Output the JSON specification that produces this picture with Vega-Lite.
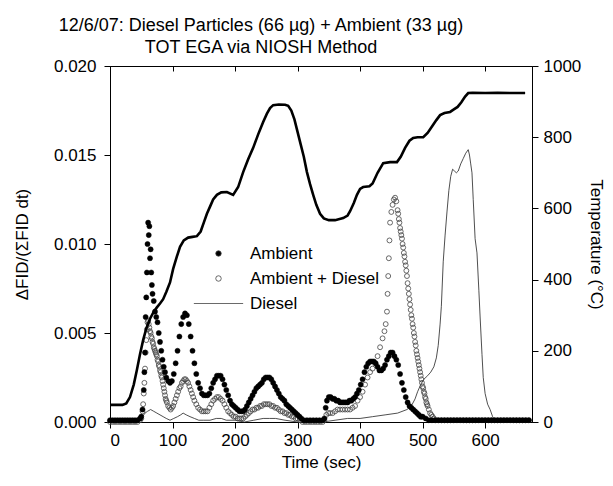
{
  "$schema": "https://vega.github.io/schema/vega-lite/v6.json",
  "autosize": {"type": "none"},
  "padding": {"left": 110, "top": 66, "right": 81, "bottom": 64},
  "width": 422,
  "height": 356,
  "background": "white",
  "title": {
    "text": ["12/6/07:  Diesel Particles (66 µg) + Ambient (33 µg)", "TOT EGA via NIOSH Method"],
    "font": "Liberation Sans", "fontSize": 18, "fontWeight": "normal", "color": "black",
    "anchor": "middle", "dx": -60, "dy": 3, "offset": 3, "lineHeight": 22
  },
  "config": {
    "view": {"stroke": "black", "strokeWidth": 1},
    "axis": {
      "grid": false, "domainColor": "black", "tickColor": "black", "labelColor": "black", "titleColor": "black",
      "labelFont": "Liberation Sans", "titleFont": "Liberation Sans", "labelFontSize": 17, "titleFontSize": 17,
      "titleFontWeight": "normal", "tickSize": 6
    },
    "legend": {"labelFont": "Liberation Sans", "labelFontSize": 17, "labelColor": "black"}
  },
  "datasets": {
    "amb": [
      {"t":0,"v":0.0001},{"t":4,"v":0.0001},{"t":8,"v":0.0001},{"t":12,"v":0.0001},{"t":16,"v":0.0001},{"t":20,"v":0.0001},{"t":24,"v":0.0001},{"t":28,"v":0.0001},{"t":32,"v":0.0001},{"t":36,"v":0.0001},{"t":40,"v":0.0001},{"t":44,"v":0.0001},{"t":48,"v":0.0002},
      {"t":50,"v":0.0003},{"t":52,"v":0.0007},{"t":54,"v":0.0018},{"t":55,"v":0.0028},{"t":56,"v":0.0039},{"t":57,"v":0.0059},{"t":58,"v":0.0070},{"t":59,"v":0.0084},{"t":60,"v":0.0100},{"t":61,"v":0.0112},{"t":62,"v":0.0105},{"t":63,"v":0.0110},{"t":64,"v":0.0092},{"t":65,"v":0.0097},{"t":66,"v":0.0084},{"t":67,"v":0.0077},{"t":68,"v":0.0072},{"t":70,"v":0.0068},{"t":72,"v":0.0062},{"t":74,"v":0.0059},{"t":76,"v":0.0056},{"t":78,"v":0.0050},{"t":80,"v":0.0045},{"t":82,"v":0.0040},{"t":84,"v":0.0035},{"t":86,"v":0.0031},{"t":88,"v":0.0028},{"t":90,"v":0.0025},{"t":93,"v":0.0023},{"t":96,"v":0.0022},{"t":99,"v":0.0023},
      {"t":102,"v":0.0027},{"t":105,"v":0.0033},{"t":108,"v":0.0040},{"t":111,"v":0.0048},{"t":114,"v":0.0055},{"t":117,"v":0.0059},{"t":120,"v":0.0061},{"t":123,"v":0.0060},{"t":126,"v":0.0055},{"t":129,"v":0.0048},{"t":132,"v":0.0040},{"t":135,"v":0.0033},{"t":138,"v":0.0027},{"t":141,"v":0.0022},{"t":144,"v":0.0019},{"t":147,"v":0.0016},{"t":150,"v":0.0015},{"t":153,"v":0.0015},{"t":156,"v":0.0015},{"t":159,"v":0.0016},{"t":162,"v":0.0019},{"t":165,"v":0.0022},{"t":168,"v":0.0024},{"t":171,"v":0.0026},{"t":174,"v":0.0026},{"t":177,"v":0.0026},{"t":180,"v":0.0024},{"t":183,"v":0.0021},{"t":186,"v":0.0018},{"t":189,"v":0.0015},{"t":192,"v":0.0012},{"t":195,"v":0.0010},{"t":198,"v":0.0009},
      {"t":201,"v":0.0008},{"t":204,"v":0.0007},{"t":207,"v":0.0006},{"t":210,"v":0.0006},{"t":213,"v":0.0006},{"t":216,"v":0.0007},{"t":219,"v":0.0009},{"t":222,"v":0.0011},{"t":225,"v":0.0013},{"t":228,"v":0.0015},{"t":231,"v":0.0017},{"t":234,"v":0.0019},{"t":237,"v":0.0020},{"t":240,"v":0.0021},{"t":243,"v":0.0022},{"t":246,"v":0.0024},{"t":249,"v":0.0025},{"t":252,"v":0.0025},{"t":255,"v":0.0025},{"t":258,"v":0.0024},{"t":261,"v":0.0022},{"t":264,"v":0.0020},{"t":267,"v":0.0018},{"t":270,"v":0.0016},{"t":273,"v":0.0014},{"t":276,"v":0.0013},{"t":279,"v":0.0012},{"t":282,"v":0.0010},{"t":285,"v":0.0009},{"t":288,"v":0.0008},{"t":291,"v":0.0007},{"t":294,"v":0.0006},{"t":297,"v":0.0005},
      {"t":300,"v":0.0004},{"t":303,"v":0.0003},{"t":306,"v":0.0002},{"t":310,"v":0.0001},{"t":315,"v":0.0001},{"t":320,"v":0.0001},{"t":325,"v":0.0001},{"t":330,"v":0.0001},{"t":335,"v":0.0001},{"t":340,"v":0.0001},{"t":343,"v":0.0002},{"t":345,"v":0.0008},{"t":347,"v":0.0012},{"t":350,"v":0.0014},{"t":353,"v":0.0014},{"t":356,"v":0.0013},{"t":359,"v":0.0013},{"t":362,"v":0.0012},{"t":365,"v":0.0012},{"t":368,"v":0.0011},{"t":371,"v":0.0011},{"t":374,"v":0.0011},{"t":377,"v":0.0011},{"t":380,"v":0.0011},{"t":383,"v":0.0012},{"t":386,"v":0.0012},{"t":389,"v":0.0013},{"t":392,"v":0.0014},{"t":395,"v":0.0016},{"t":398,"v":0.0018},
      {"t":401,"v":0.0021},{"t":404,"v":0.0024},{"t":407,"v":0.0028},{"t":410,"v":0.0031},{"t":413,"v":0.0033},{"t":416,"v":0.0034},{"t":419,"v":0.0034},{"t":422,"v":0.0034},{"t":425,"v":0.0033},{"t":428,"v":0.0031},{"t":431,"v":0.0029},{"t":434,"v":0.0029},{"t":437,"v":0.0030},{"t":440,"v":0.0032},{"t":443,"v":0.0035},{"t":446,"v":0.0037},{"t":449,"v":0.0039},{"t":452,"v":0.0039},{"t":455,"v":0.0037},{"t":458,"v":0.0035},{"t":461,"v":0.0032},{"t":464,"v":0.0027},{"t":467,"v":0.0022},{"t":470,"v":0.0018},{"t":473,"v":0.0014},{"t":476,"v":0.0011},{"t":479,"v":0.0009},{"t":482,"v":0.0008},{"t":485,"v":0.0007},{"t":488,"v":0.0006},{"t":491,"v":0.0005},{"t":494,"v":0.0004},{"t":497,"v":0.0003},
      {"t":500,"v":0.0003},{"t":505,"v":0.0002},{"t":510,"v":0.0001},{"t":515,"v":0.0001},{"t":520,"v":0.0001},{"t":525,"v":0.0001},{"t":530,"v":0.0001},{"t":535,"v":0.0001},{"t":540,"v":0.0001},{"t":545,"v":0.0001},{"t":550,"v":0.0001},{"t":555,"v":0.0001},{"t":560,"v":0.0001},{"t":565,"v":0.0001},{"t":570,"v":0.0001},{"t":575,"v":0.0001},{"t":580,"v":0.0001},{"t":585,"v":0.0001},{"t":590,"v":0.0001},{"t":595,"v":0.0001},{"t":600,"v":0.0001},{"t":605,"v":0.0001},{"t":610,"v":0.0001},{"t":615,"v":0.0001},{"t":620,"v":0.0001},{"t":625,"v":0.0001},{"t":630,"v":0.0001},{"t":635,"v":0.0001},{"t":640,"v":0.0001},{"t":645,"v":0.0001},{"t":650,"v":0.0001},{"t":655,"v":0.0001},{"t":660,"v":0.0001},{"t":665,"v":0.0001},{"t":670,"v":0.0001}
    ],
    "mix": [
      {"t":0,"v":0.0},{"t":4,"v":0.0},{"t":8,"v":0.0},{"t":12,"v":0.0},{"t":16,"v":0.0},{"t":20,"v":0.0},{"t":24,"v":0.0},{"t":28,"v":0.0},{"t":32,"v":0.0},{"t":36,"v":0.0},{"t":40,"v":0.0},{"t":44,"v":0.0},{"t":48,"v":0.0001},
      {"t":50,"v":0.0002},{"t":52,"v":0.0006},{"t":53,"v":0.0010},{"t":54,"v":0.0016},{"t":55,"v":0.0022},{"t":56,"v":0.0030},{"t":57,"v":0.0039},{"t":58,"v":0.0046},{"t":59,"v":0.0052},{"t":60,"v":0.0056},{"t":61,"v":0.0057},{"t":62,"v":0.0055},{"t":63,"v":0.0053},{"t":64,"v":0.0051},{"t":65,"v":0.0050},{"t":66,"v":0.0048},{"t":67,"v":0.0047},{"t":68,"v":0.0045},{"t":69,"v":0.0044},{"t":70,"v":0.0042},{"t":71,"v":0.0041},{"t":72,"v":0.0040},{"t":73,"v":0.0039},{"t":74,"v":0.0038},{"t":75,"v":0.0037},{"t":76,"v":0.0035},{"t":77,"v":0.0034},{"t":78,"v":0.0032},{"t":79,"v":0.0031},{"t":80,"v":0.0029},{"t":81,"v":0.0028},{"t":82,"v":0.0026},{"t":83,"v":0.0025},{"t":84,"v":0.0023},{"t":85,"v":0.0021},{"t":86,"v":0.0019},{"t":87,"v":0.0017},{"t":88,"v":0.0015},{"t":89,"v":0.0013},{"t":90,"v":0.0012},{"t":91,"v":0.0011},{"t":93,"v":0.0009},{"t":95,"v":0.0008},{"t":97,"v":0.0007},{"t":99,"v":0.0008},
      {"t":101,"v":0.0009},{"t":103,"v":0.0011},{"t":105,"v":0.0013},{"t":107,"v":0.0015},{"t":109,"v":0.0017},{"t":111,"v":0.0019},{"t":113,"v":0.0020},{"t":115,"v":0.0022},{"t":117,"v":0.0023},{"t":119,"v":0.0024},{"t":121,"v":0.0024},{"t":123,"v":0.0023},{"t":125,"v":0.0022},{"t":127,"v":0.0020},{"t":129,"v":0.0018},{"t":131,"v":0.0016},{"t":133,"v":0.0014},{"t":135,"v":0.0012},{"t":138,"v":0.0010},{"t":141,"v":0.0008},{"t":144,"v":0.0007},{"t":147,"v":0.0006},{"t":150,"v":0.0006},{"t":153,"v":0.0006},{"t":156,"v":0.0006},{"t":159,"v":0.0008},{"t":162,"v":0.0010},{"t":165,"v":0.0012},{"t":168,"v":0.0013},{"t":171,"v":0.0014},{"t":174,"v":0.0014},{"t":177,"v":0.0013},{"t":180,"v":0.0012},{"t":183,"v":0.0010},{"t":186,"v":0.0008},{"t":189,"v":0.0006},{"t":192,"v":0.0005},{"t":195,"v":0.0004},{"t":198,"v":0.0003},
      {"t":201,"v":0.0003},{"t":204,"v":0.0002},{"t":207,"v":0.0002},{"t":210,"v":0.0002},{"t":213,"v":0.0002},{"t":216,"v":0.0003},{"t":219,"v":0.0004},{"t":222,"v":0.0005},{"t":225,"v":0.0006},{"t":228,"v":0.0007},{"t":231,"v":0.0007},{"t":234,"v":0.0008},{"t":237,"v":0.0008},{"t":240,"v":0.0009},{"t":243,"v":0.0009},{"t":246,"v":0.0010},{"t":249,"v":0.0010},{"t":252,"v":0.0010},{"t":255,"v":0.0010},{"t":258,"v":0.0009},{"t":261,"v":0.0009},{"t":264,"v":0.0008},{"t":267,"v":0.0008},{"t":270,"v":0.0007},{"t":273,"v":0.0006},{"t":276,"v":0.0006},{"t":279,"v":0.0005},{"t":282,"v":0.0005},{"t":285,"v":0.0004},{"t":288,"v":0.0004},{"t":291,"v":0.0003},{"t":294,"v":0.0003},{"t":297,"v":0.0002},
      {"t":300,"v":0.0002},{"t":304,"v":0.0001},{"t":308,"v":0.0},{"t":312,"v":0.0},{"t":316,"v":0.0},{"t":320,"v":0.0},{"t":324,"v":0.0},{"t":328,"v":0.0},{"t":332,"v":0.0},{"t":336,"v":0.0},{"t":340,"v":0.0},{"t":343,"v":0.0001},{"t":346,"v":0.0004},{"t":349,"v":0.0005},{"t":352,"v":0.0005},{"t":356,"v":0.0005},{"t":360,"v":0.0006},{"t":364,"v":0.0007},{"t":368,"v":0.0007},{"t":372,"v":0.0007},{"t":376,"v":0.0007},{"t":380,"v":0.0007},{"t":384,"v":0.0007},{"t":388,"v":0.0008},{"t":392,"v":0.0009},{"t":396,"v":0.0012},
      {"t":400,"v":0.0014},{"t":404,"v":0.0017},{"t":408,"v":0.0021},{"t":412,"v":0.0025},{"t":416,"v":0.0028},{"t":420,"v":0.0030},{"t":424,"v":0.0033},{"t":428,"v":0.0037},{"t":432,"v":0.0042},{"t":436,"v":0.0047},{"t":439,"v":0.0051},{"t":441,"v":0.0055},{"t":443,"v":0.0062},{"t":444,"v":0.0072},{"t":445,"v":0.0082},{"t":446,"v":0.0092},{"t":447,"v":0.0102},{"t":448,"v":0.0112},{"t":450,"v":0.0118},{"t":452,"v":0.0122},{"t":454,"v":0.0125},{"t":456,"v":0.0126},{"t":458,"v":0.0124},{"t":460,"v":0.0119},{"t":461,"v":0.0117},{"t":462,"v":0.0114},{"t":463,"v":0.0112},{"t":464,"v":0.0109},{"t":465,"v":0.0107},{"t":466,"v":0.0105},{"t":467,"v":0.0103},{"t":468,"v":0.0100},{"t":469,"v":0.0098},{"t":470,"v":0.0095},{"t":471,"v":0.0093},{"t":472,"v":0.0090},{"t":473,"v":0.0088},{"t":474,"v":0.0085},{"t":475,"v":0.0082},{"t":476,"v":0.0078},{"t":477,"v":0.0075},{"t":478,"v":0.0072},{"t":479,"v":0.0069},{"t":480,"v":0.0066},{"t":481,"v":0.0063},{"t":482,"v":0.0060},{"t":483,"v":0.0058},{"t":484,"v":0.0055},{"t":485,"v":0.0053},{"t":486,"v":0.0050},{"t":487,"v":0.0048},{"t":488,"v":0.0045},{"t":489,"v":0.0043},{"t":490,"v":0.0040},{"t":491,"v":0.0038},{"t":492,"v":0.0036},{"t":493,"v":0.0034},{"t":494,"v":0.0032},{"t":495,"v":0.0030},{"t":496,"v":0.0028},{"t":497,"v":0.0026},{"t":498,"v":0.0024},{"t":499,"v":0.0022},
      {"t":500,"v":0.0020},{"t":501,"v":0.0019},{"t":502,"v":0.0017},{"t":503,"v":0.0016},{"t":504,"v":0.0014},{"t":505,"v":0.0013},{"t":506,"v":0.0011},{"t":507,"v":0.0010},{"t":508,"v":0.0009},{"t":510,"v":0.0007},{"t":512,"v":0.0005},{"t":514,"v":0.0004},{"t":516,"v":0.0003},{"t":518,"v":0.0002},{"t":521,"v":0.0001},{"t":525,"v":0.0001},{"t":530,"v":0.0001},{"t":535,"v":0.0001},{"t":540,"v":0.0001},{"t":545,"v":0.0001},{"t":550,"v":0.0001},{"t":555,"v":0.0001},{"t":560,"v":0.0001},{"t":565,"v":0.0001},{"t":570,"v":0.0001},{"t":575,"v":0.0001},{"t":580,"v":0.0001},{"t":585,"v":0.0001},{"t":590,"v":0.0001},{"t":595,"v":0.0001},{"t":600,"v":0.0001},{"t":605,"v":0.0001},{"t":610,"v":0.0001},{"t":615,"v":0.0001},{"t":620,"v":0.0001},{"t":625,"v":0.0001},{"t":630,"v":0.0001},{"t":635,"v":0.0001},{"t":640,"v":0.0001},{"t":645,"v":0.0001},{"t":650,"v":0.0001},{"t":655,"v":0.0001},{"t":660,"v":0.0001},{"t":665,"v":0.0001},{"t":670,"v":0.0001}
    ],
    "dsl": [
      {"t":0,"v":0.0},{"t":20,"v":0.0},{"t":40,"v":0.0},{"t":48,"v":0.0001},{"t":52,"v":0.0003},{"t":56,"v":0.0005},{"t":60,"v":0.0006},{"t":65,"v":0.0007},{"t":70,"v":0.0006},{"t":75,"v":0.0005},{"t":80,"v":0.0004},{"t":85,"v":0.0003},{"t":90,"v":0.0002},{"t":96,"v":0.0001},{"t":102,"v":0.0002},{"t":108,"v":0.0003},{"t":113,"v":0.0004},{"t":117,"v":0.0005},{"t":122,"v":0.0004},{"t":128,"v":0.0003},{"t":135,"v":0.0002},{"t":142,"v":0.0001},{"t":150,"v":0.0001},{"t":160,"v":0.0001},{"t":170,"v":0.0002},{"t":178,"v":0.0002},{"t":186,"v":0.0001},{"t":200,"v":0.0001},{"t":215,"v":0.0},{"t":230,"v":0.0001},{"t":245,"v":0.0002},{"t":255,"v":0.0002},{"t":265,"v":0.0002},{"t":280,"v":0.0001},{"t":300,"v":0.0},{"t":340,"v":0.0},{"t":360,"v":0.0001},{"t":380,"v":0.0002},{"t":400,"v":0.0002},{"t":420,"v":0.0003},{"t":440,"v":0.0004},{"t":460,"v":0.0005},{"t":475,"v":0.0007},{"t":482,"v":0.0009},{"t":488,"v":0.0013},{"t":492,"v":0.0017},{"t":497,"v":0.0021},{"t":502,"v":0.0024},{"t":508,"v":0.0026},{"t":513,"v":0.0028},{"t":518,"v":0.0031},{"t":522,"v":0.0036},{"t":525,"v":0.0043},{"t":528,"v":0.0055},{"t":530,"v":0.0065},{"t":533,"v":0.0090},{"t":536,"v":0.0105},{"t":539,"v":0.0118},{"t":542,"v":0.0130},{"t":545,"v":0.0138},{"t":548,"v":0.0142},{"t":551,"v":0.0141},{"t":554,"v":0.0140},{"t":557,"v":0.0141},{"t":561,"v":0.0145},{"t":565,"v":0.0148},{"t":569,"v":0.0151},{"t":573,"v":0.0153},{"t":575,"v":0.0150},{"t":577,"v":0.0145},{"t":579,"v":0.0140},{"t":581,"v":0.0125},{"t":584,"v":0.0103},{"t":587,"v":0.0095},{"t":590,"v":0.0074},{"t":592,"v":0.0059},{"t":595,"v":0.0038},{"t":597,"v":0.0025},{"t":600,"v":0.0016},{"t":604,"v":0.0010},{"t":608,"v":0.0007},{"t":612,"v":0.0003},{"t":616,"v":0.0001},{"t":625,"v":0.0},{"t":650,"v":0.0},{"t":670,"v":0.0}
    ],
    "temp": [
      {"t":0,"T":48},{"t":10,"T":48},{"t":20,"T":48},{"t":26,"T":52},{"t":32,"T":70},{"t":38,"T":105},{"t":43,"T":146},{"t":48,"T":190},{"t":53,"T":230},{"t":58,"T":262},{"t":64,"T":290},{"t":70,"T":310},{"t":75,"T":322},{"t":80,"T":333},{"t":85,"T":345},{"t":90,"T":365},{"t":96,"T":392},{"t":101,"T":430},{"t":107,"T":465},{"t":112,"T":492},{"t":118,"T":510},{"t":125,"T":518},{"t":132,"T":520},{"t":139,"T":522},{"t":145,"T":535},{"t":150,"T":560},{"t":155,"T":585},{"t":160,"T":605},{"t":165,"T":625},{"t":171,"T":638},{"t":178,"T":645},{"t":187,"T":646},{"t":197,"T":638},{"t":205,"T":660},{"t":213,"T":702},{"t":221,"T":738},{"t":229,"T":770},{"t":237,"T":808},{"t":245,"T":843},{"t":251,"T":866},{"t":256,"T":882},{"t":261,"T":890},{"t":270,"T":892},{"t":280,"T":891},{"t":285,"T":888},{"t":290,"T":875},{"t":295,"T":850},{"t":300,"T":815},{"t":304,"T":787},{"t":310,"T":745},{"t":315,"T":702},{"t":320,"T":668},{"t":325,"T":638},{"t":330,"T":610},{"t":336,"T":585},{"t":342,"T":572},{"t":350,"T":567},{"t":360,"T":567},{"t":373,"T":573},{"t":380,"T":580},{"t":384,"T":592},{"t":390,"T":615},{"t":395,"T":638},{"t":400,"T":655},{"t":405,"T":660},{"t":415,"T":662},{"t":420,"T":670},{"t":428,"T":700},{"t":437,"T":727},{"t":448,"T":730},{"t":459,"T":730},{"t":465,"T":745},{"t":472,"T":770},{"t":479,"T":790},{"t":485,"T":798},{"t":492,"T":800},{"t":501,"T":800},{"t":508,"T":812},{"t":515,"T":830},{"t":522,"T":848},{"t":528,"T":862},{"t":535,"T":868},{"t":544,"T":871},{"t":550,"T":878},{"t":556,"T":885},{"t":562,"T":898},{"t":568,"T":914},{"t":573,"T":924},{"t":580,"T":925},{"t":600,"T":924},{"t":620,"T":925},{"t":640,"T":924},{"t":664,"T":924}
    ]
  },
  "layer": [
    {
      "layer": [
        {
          "data": {"name": "dsl"},
          "mark": {"type": "line", "color": "#222222", "strokeWidth": 0.8},
          "encoding": {
            "x": {"field": "t", "type": "quantitative"},
            "y": {"field": "v", "type": "quantitative"}
          }
        },
        {
          "data": {"name": "mix"},
          "mark": {"type": "point", "filled": true, "size": 24, "stroke": "#444444", "strokeWidth": 0.8, "opacity": 1},
          "encoding": {
            "x": {"field": "t", "type": "quantitative"},
            "y": {"field": "v", "type": "quantitative"},
            "shape": {"datum": "Ambient + Diesel"},
            "fill": {"datum": "Ambient + Diesel"}
          }
        },
        {
          "data": {"name": "amb"},
          "mark": {"type": "point", "filled": true, "size": 26, "stroke": "black", "strokeWidth": 0.5, "opacity": 1},
          "encoding": {
            "x": {
              "field": "t", "type": "quantitative",
              "scale": {"domain": [0, 675], "nice": false, "zero": false},
              "axis": {"values": [0, 100, 200, 300, 400, 500, 600], "format": "d", "title": "Time (sec)", "labelPadding": 4, "titlePadding": 6}
            },
            "y": {
              "field": "v", "type": "quantitative",
              "scale": {"domain": [0, 0.02], "nice": false},
              "axis": {"values": [0, 0.005, 0.01, 0.015, 0.02], "format": ".3f", "title": "ΔFID/(ΣFID dt)", "labelPadding": 8, "titlePadding": 22}
            },
            "shape": {
              "datum": "Ambient", "type": "nominal",
              "scale": {"domain": ["Ambient", "Ambient + Diesel", "Diesel"], "range": ["circle", "circle", "M-9,0H9"]},
              "legend": {"title": null, "orient": "none", "legendX": 100, "legendY": 179, "symbolSize": 30, "symbolStrokeColor": "black", "symbolStrokeWidth": 0.8, "labelOffset": 23, "rowPadding": 7, "padding": 0}
            },
            "fill": {
              "datum": "Ambient", "type": "nominal",
              "scale": {"domain": ["Ambient", "Ambient + Diesel", "Diesel"], "range": ["black", "transparent", "transparent"]},
              "legend": {"title": null}
            }
          }
        }
      ]
    },
    {
      "data": {"name": "temp"},
      "mark": {"type": "line", "color": "black", "strokeWidth": 2.6},
      "encoding": {
        "x": {
          "field": "t", "type": "quantitative",
          "axis": {"orient": "top", "values": [0, 100, 200, 300, 400, 500, 600], "labels": false, "domain": false, "title": null, "tickSize": 5, "offset": -5}
        },
        "y": {
          "field": "T", "type": "quantitative",
          "scale": {"domain": [0, 1000], "nice": false},
          "axis": {"orient": "right", "values": [0, 200, 400, 600, 800, 1000], "format": "d", "title": "Temperature (°C)", "labelPadding": 5, "titlePadding": 6}
        }
      }
    }
  ],
  "resolve": {"scale": {"y": "independent"}, "axis": {"x": "independent"}}
}
